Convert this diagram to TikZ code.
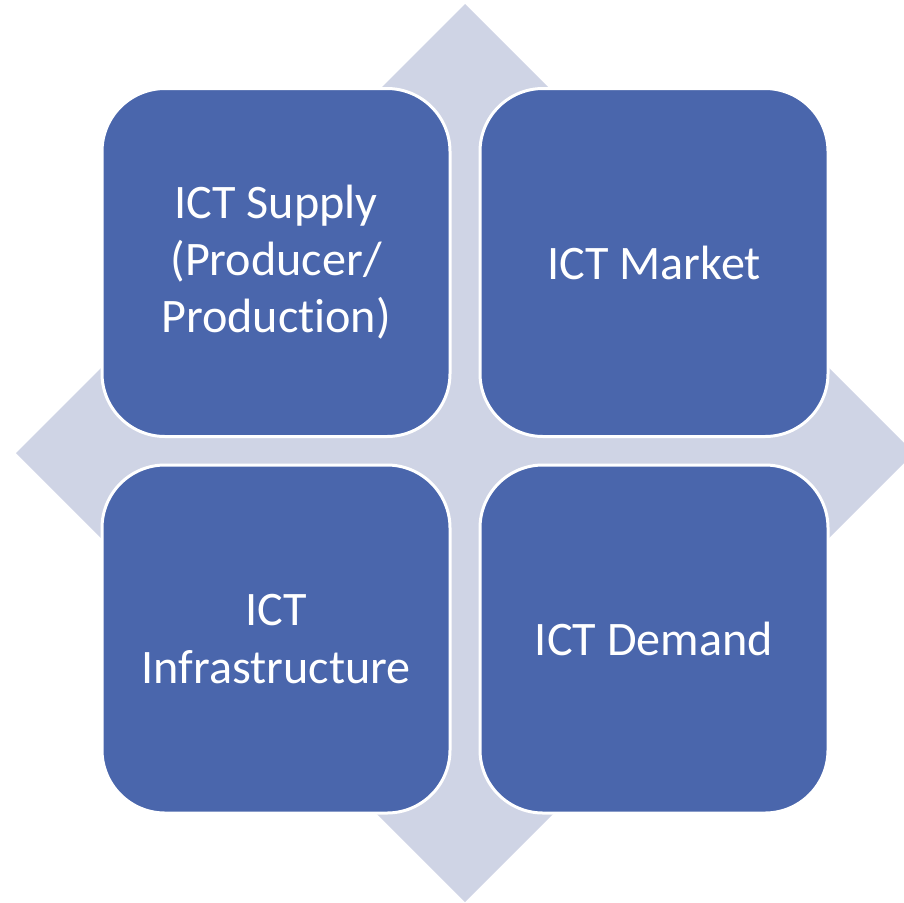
\documentclass[tikz,border=0pt]{standalone}
\usepackage{fontspec}
\setmainfont[Ligatures={NoCommon}]{Carlito}
\usetikzlibrary{positioning}
\definecolor{boxblue}{HTML}{4A66AC}
\definecolor{diamondgray}{HTML}{CFD4E5}
\tikzset{
	block/.style={rectangle, rounded corners=1.26cm, minimum width=6.96cm, minimum height=6.96cm, inner sep=0pt, draw=white, line width=0.06cm, fill=boxblue, text=white, align=center, font=\fontsize{27.4}{32.5}\selectfont},
	backdrop/.style={fill=diamondgray, draw=none}
}
\begin{document}
\begin{tikzpicture}
			\useasboundingbox (0,0) rectangle (18.08,-18.04);
			\clip (0,0) rectangle (18.08,-18.04);
			% Background diamond
			\fill [backdrop] (9.3,-0.08) -- (18.28,-9.06) -- (9.3,-18.04) -- (0.32,-9.06) -- cycle;
			
			% Nodes
			\node (supply) [block] at (5.52,-5.25) {ICT Supply\\(Producer/\\Production)};
			\node (market) [block] at (13.08,-5.25) {ICT Market};
			\node (infra) [block] at (5.52,-12.78) {ICT\\Infrastructure};
			\node (demand) [block] at (13.08,-12.78) {ICT Demand};
		\end{tikzpicture}
\end{document}
